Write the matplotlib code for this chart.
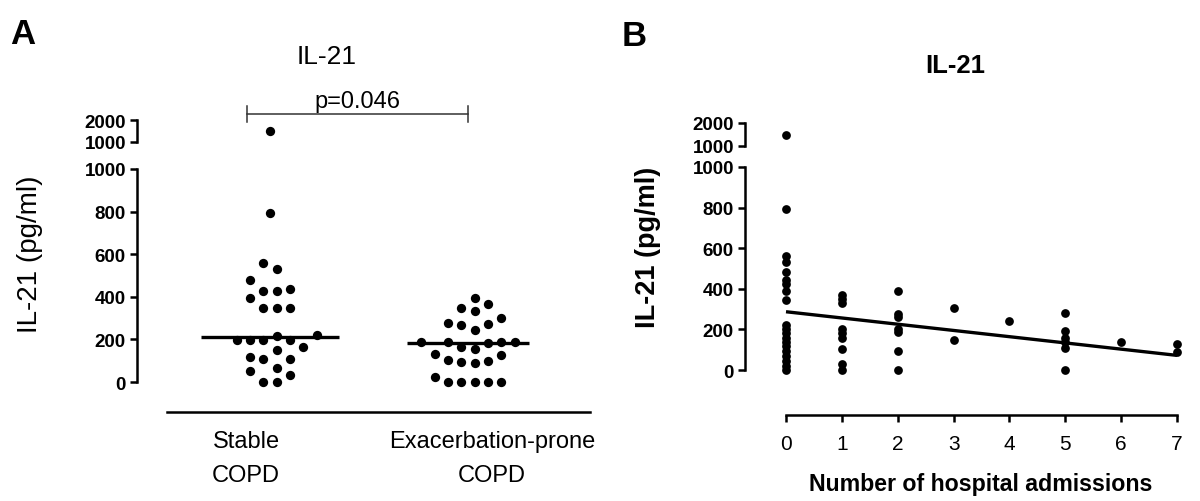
import numpy as np
import matplotlib
matplotlib.use("Agg")
import matplotlib.pyplot as plt

plt.rcParams['font.family'] = ['Liberation Sans', 'DejaVu Sans']

# ---------------- data ----------------
groups = ["Stable\nCOPD", "Exacerbation-prone\nCOPD"]
stable = [1500, 792, 561, 530, 477, 437, 427, 427, 395, 347, 347, 347, 223, 214,
          197, 197, 197, 197, 164, 152, 117, 109, 109, 66, 50, 31, 0, 0]
exacerbation = [394, 367, 348, 333, 302, 277, 273, 266, 245, 190, 188, 187, 186,
                185, 164, 156, 133, 125, 102, 100, 94, 89, 25, 0, 0, 0, 0, 0]
medians = [209, 184]
p_text = "p=0.046"

admissions = [0, 1, 2, 3, 4, 5, 6, 7]
adm_values = [
    [1500, 792, 563, 533, 481, 445, 424, 391, 346, 222, 200, 180, 160, 140, 120, 95, 70, 46, 21, 0],
    [370, 350, 330, 200, 180, 160, 105, 28, 0],
    [390, 278, 262, 202, 186, 95, 0],
    [304, 149],
    [243],
    [279, 190, 158, 136, 107, 0],
    [136],
    [128, 90],
]
fit_x = [0, 7]
fit_y = [287, 72]

main_ticks = [0, 200, 400, 600, 800, 1000]
upper_ticks = [1000, 2000]
title = "IL-21"
ylabel = "IL-21 (pg/ml)"
xlabel_b = "Number of hospital admissions"

# ---------------- layout helpers ----------------
W, H = 1200, 502
fig = plt.figure(figsize=(W / 100, H / 100), dpi=100)


def rect(l, t, r, b):
    return [l / W, 1 - b / H, (r - l) / W, (b - t) / H]


LW = 1.8
TL = 5


def style_axis(ax, lo, hi, labels_size, bold):
    for s in ['top', 'right']:
        ax.spines[s].set_visible(False)
    ax.spines['left'].set_linewidth(LW)
    ax.spines['left'].set_bounds(lo, hi)
    ax.tick_params(axis='y', direction='out', length=TL, width=LW,
                   labelsize=labels_size, pad=3)
    ax.set_yticks([hi], minor=True)
    ax.tick_params(axis='y', which='minor', direction='in', length=TL, width=LW)
    for lab in ax.get_yticklabels():
        lab.set_fontweight('bold' if bold else 'normal')
    ax.set_facecolor('none')


def swarm(vals, px_per_unit, d):
    vals = np.asarray(vals, float)
    ys = vals * px_per_unit
    order = np.argsort(vals, kind='stable')
    cands = []
    for k in range(12):
        cands += [(k + 0.5) * d, -(k + 0.5) * d]
    placed = []
    offs = np.zeros(len(vals))
    for i in order:
        y = ys[i]
        others = np.delete(ys, i)
        if not np.any(np.abs(others - y) < d):
            offs[i] = 0.0
            placed.append((0.0, y))
            continue
        chosen = cands[-1]
        for c in cands:
            if all((c - px) ** 2 + (y - py) ** 2 >= (0.97 * d) ** 2 for px, py in placed):
                chosen = c
                break
        offs[i] = chosen
        placed.append((chosen, y))
    return offs


# ---------------- Panel A ----------------
A_left, A_right = 137, 600
A_cat_px = [246, 492]            # column label centres (px)
A_dot_px = [270, 468]            # scatter centres (px)
A_median_half_px = [69, 61]
A_unit = A_cat_px[1] - A_cat_px[0]
A_py = (383 - 170) / 1000.0


def ax_x(px):
    return (px - A_cat_px[0]) / A_unit


axA = fig.add_axes(rect(A_left, 170, A_right, 413))
axA.set_ylim(-(413 - 383) / A_py, 1000)
axA.set_xlim(ax_x(A_left), ax_x(A_right))
axA.set_yticks(main_ticks)
axA.set_yticklabels([str(t) for t in main_ticks])
style_axis(axA, 0, 1000, 13.5, True)
axA.spines['bottom'].set_linewidth(LW)
axA.spines['bottom'].set_bounds(ax_x(167), ax_x(590))
axA.set_xticks([0, 1])
axA.set_xticklabels(groups, fontsize=17, linespacing=1.7)
axA.tick_params(axis='x', length=0, pad=13)

axA2 = fig.add_axes(rect(A_left, 121, A_right, 143))
axA2.set_ylim(1000, 2000)
axA2.set_xlim(axA.get_xlim())
axA2.set_yticks(upper_ticks)
axA2.set_yticklabels([str(t) for t in upper_ticks])
style_axis(axA2, 1000, 2000, 13.5, True)
axA2.spines['bottom'].set_visible(False)
axA2.set_xticks([])

dot_d = 13.3
for gi, vals in enumerate([stable, exacerbation]):
    vals = np.asarray(vals, float)
    centre = ax_x(A_dot_px[gi])
    offs = swarm(vals, A_py, dot_d) / A_unit
    xs = centre + offs
    low = vals <= 1000
    axA.plot(xs[low], vals[low], 'o', color='black', ms=6.7, mew=0, clip_on=False)
    axA2.plot(xs[~low], vals[~low], 'o', color='black', ms=6.7, mew=0, clip_on=False)
    hw = A_median_half_px[gi] / A_unit
    axA.hlines(medians[gi], centre - hw, centre + hw, color='black', lw=2.4)

# significance bracket (in upper axes coordinates)
upx = 22 / 1000.0
yb = 2000 + (121 - 115) / upx
tick_h = 8 / upx
bx0, bx1 = ax_x(247), ax_x(468)
axA2.plot([bx0, bx1], [yb, yb], color='#333333', lw=1.1, clip_on=False)
axA2.plot([bx0, bx0], [yb - tick_h, yb + tick_h], color='#333333', lw=1.1, clip_on=False)
axA2.plot([bx1, bx1], [yb - tick_h, yb + tick_h], color='#333333', lw=1.1, clip_on=False)
axA2.text((bx0 + bx1) / 2, yb + 2 / upx, p_text, ha='center', va='bottom', fontsize=17)

fig.text(327 / W, 1 - 57 / H, title, ha='center', va='center', fontsize=19)
fig.text(30 / W, 1 - 254 / H, ylabel, ha='center', va='center', rotation=90, fontsize=20)
fig.text(10 / W, 1 - 35 / H, "A", ha='left', va='center', fontsize=25, fontweight='bold')

# ---------------- Panel B ----------------
B_left, B_right = 745, 1182
B_x0, B_x7 = 786, 1177
B_ux = (B_x7 - B_x0) / 7.0
B_py = (371 - 168) / 1000.0
axB = fig.add_axes(rect(B_left, 168, B_right, 416))
axB.set_ylim(-(416 - 371) / B_py, 1000)
axB.set_xlim((B_left - B_x0) / B_ux, (B_right - B_x0) / B_ux)
axB.set_yticks(main_ticks)
axB.set_yticklabels([str(t) for t in main_ticks])
style_axis(axB, 0, 1000, 13.5, True)
axB.spines['bottom'].set_linewidth(LW)
axB.spines['bottom'].set_bounds(0, 7)
axB.set_xticks(admissions)
axB.set_xticklabels([str(a) for a in admissions], fontsize=15)
axB.tick_params(axis='x', direction='out', length=TL, width=LW, pad=8.5)

axB2 = fig.add_axes(rect(B_left, 124, B_right, 147))
axB2.set_ylim(1000, 2000)
axB2.set_xlim(axB.get_xlim())
axB2.set_yticks(upper_ticks)
axB2.set_yticklabels([str(t) for t in upper_ticks])
style_axis(axB2, 1000, 2000, 13.5, True)
axB2.spines['bottom'].set_visible(False)
axB2.set_xticks([])

for a, vals in zip(admissions, adm_values):
    vals = np.asarray(vals, float)
    xs = np.full(len(vals), a, float)
    low = vals <= 1000
    axB.plot(xs[low], vals[low], 'o', color='black', ms=6.3, mew=0, clip_on=False)
    axB2.plot(xs[~low], vals[~low], 'o', color='black', ms=6.3, mew=0, clip_on=False)

axB.plot(fit_x, fit_y, color='black', lw=2.4, solid_capstyle='butt', clip_on=False)

fig.text(955 / W, 1 - 66 / H, title, ha='center', va='center', fontsize=18.5, fontweight='bold')
fig.text(648 / W, 1 - 247 / H, ylabel, ha='center', va='center', rotation=90,
         fontsize=19.5, fontweight='bold')
fig.text(981 / W, 1 - 485 / H, xlabel_b, ha='center', va='center', fontsize=16.7,
         fontweight='bold')
fig.text(622 / W, 1 - 37 / H, "B", ha='left', va='center', fontsize=25, fontweight='bold')

fig.savefig("out.png", dpi=100)
